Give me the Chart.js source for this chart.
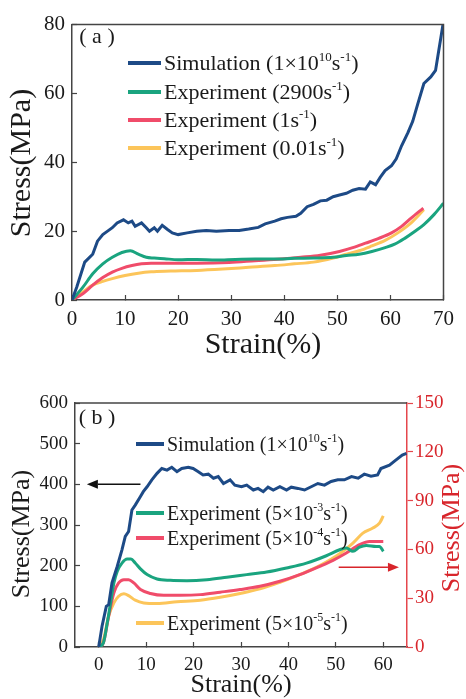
<!DOCTYPE html>
<html>
<head>
<meta charset="utf-8">
<script src="https://cdn.jsdelivr.net/npm/chart.js@4.4.1/dist/chart.umd.min.js"></script>
<style>
  html, body { margin: 0; padding: 0; background: #fff; }
  #wrapA { position: absolute; left: 0; top: 0; width: 466px; height: 370px; }
  #wrapB { position: absolute; left: 0; top: 370px; width: 466px; height: 329px; }
</style>
</head>
<body>
<div id="wrapA"><canvas id="chartA"></canvas></div>
<div id="wrapB"><canvas id="chartB"></canvas></div>
<script>
// ---------- panel (a) data ----------
const labelsA = ['Simulation (1×10^{10}s^{-1})', 'Experiment (2900s^{-1})', 'Experiment (1s^{-1})', 'Experiment (0.01s^{-1})'];
const xTicksA = [0, 10, 20, 30, 40, 50, 60, 70];
const yTicksA = [0, 20, 40, 60, 80];

const simStrainA = [0,0.9,2.4,3.9,4.8,5.8,6.7,7.6,8.5,9.7,10.6,11.3,11.9,13.1,14,14.6,15.5,16.1,17,18,18.9,20,21.7,23.5,25.3,27.2,29.6,31.5,33.3,35.1,36.4,38.2,39.4,40.6,42.2,43.1,44.3,45.5,46.8,48,49.2,50.4,51.7,52.9,54.1,55.3,56.2,57.2,58.1,59,60.2,61.1,62.1,63.3,64.2,65.1,66.3,67.6,68.5,69.1,69.5,69.9];
const simStressA = [0,3.8,11,13.3,17.1,19,20,21,22.4,23.3,22.4,22.9,21.4,22.4,21,20,21,20,21.7,20.5,19.5,19,19.5,20,20.2,20,20.2,20.2,20.6,21.1,22.1,22.9,23.6,24,24.3,25.2,27.1,27.8,28.8,29,30,30.5,31,31.9,32.4,32.2,34.3,33.5,35.7,37.6,39,41,44.8,48.6,51.9,56.7,62.9,64.8,66.7,72.4,76.2,80];

const exp2900StrainA = [0,2.1,3.9,5.8,7.6,9.4,11,12.5,14,15.5,17.4,20,23.5,27.2,30.8,34.5,38.2,41.9,45.5,49.2,51.7,54.1,56.5,59,60.8,62.7,64.5,66.3,68.2,70];
const exp2900StressA = [0,3.8,7.6,10.5,12.4,13.8,14.3,13.3,12.4,12.2,12,11.7,11.8,11.6,11.8,11.9,11.9,12.1,12.2,12.4,12.9,13.3,14.1,15.2,16.2,17.9,19.8,21.9,24.8,28.1];

const exp1StrainA = [0,2.1,3.9,5.8,7.6,9.4,11.3,13.1,14.9,18.6,23.5,29.6,34.5,39.4,43.1,46.8,50.4,52.9,55.3,57.8,60.2,62.1,63.9,66.2];
const exp1StressA = [0,1.9,4.3,6.5,8.1,9.2,10,10.5,10.7,10.7,10.7,10.9,11.4,11.9,12.4,13,14.1,15.2,16.5,17.9,19.5,21.4,23.8,26.7];

const exp001StrainA = [0,2.1,3.9,5.8,7.6,10,12.5,14.9,18.6,23.5,28.4,33.3,38.2,41.9,45.5,49.2,51.7,54.1,56.5,59,61.4,63.9,66.3];
const exp001StressA = [0,2.4,4.3,5.4,6.2,7.1,7.8,8.2,8.4,8.6,9,9.5,10,10.5,11,12.2,13.3,14.3,15.7,17.3,19.5,22.4,26.2];

// ---------- panel (b) data ----------
const labelsB = ['Simulation (1×10^{10}s^{-1})', 'Experiment (5×10^{-3}s^{-1})', 'Experiment (5×10^{-4}s^{-1})', 'Experiment (5×10^{-5}s^{-1})'];
const xTicksB = [0, 10, 20, 30, 40, 50, 60];
const yTicksB = [0, 100, 200, 300, 400, 500, 600];
const y2TicksB = [0, 30, 60, 90, 120, 150];

const simStrainB = [0,0.7,1.6,2.1,2.8,3.9,4.9,5.6,6.3,7,7.7,8.8,9.4,10.2,11.2,12.3,13.3,14.4,15.4,16.5,17.5,18.9,19.9,21,22,23.1,24.2,25.2,26.3,27.7,28.7,30.1,31.2,32.6,33.6,34.7,35.7,36.8,38.2,39.6,40.6,42,43.4,44.8,46.2,47.6,49,50.4,51.8,53.3,54.7,56,57.4,58.8,59.5,61.3,62.7,64,64.9];
const simStressB = [0,51,100,104,158,198,239,272,284,337,349,370,382,394,411,427,439,435,442,431,439,442,439,431,423,425,415,419,402,411,398,394,398,386,390,382,393,386,394,386,393,390,386,394,402,398,407,411,411,419,415,425,420,423,439,447,460,472,476];

const exp5e3StrainB = [0,1,1.8,2.5,3.2,3.9,4.9,6,6.8,7.7,8.8,10.2,12.3,15.1,18.6,22.8,27,31.2,35.4,39.6,43.8,48,50.8,52.2,53.6,55,56.4,58.5,59.2,60];
const exp5e3StressB = [0,2.7,14.9,27.1,39.4,46.5,51.6,54.1,54.1,51.6,48,44.5,41.8,41,40.8,41.4,42.9,44.5,46.1,48.6,51.6,56.1,59.8,60.8,58.8,61.4,62.4,61.8,61.8,58.8];

const exp5e4StrainB = [0,1,2.1,3.2,4.2,5.3,6.3,7.4,8.8,10.9,13.7,17.2,21.4,25.6,29.8,34,38.2,42.4,46.6,49.4,52.2,55,57.1,60];
const exp5e4StressB = [0,2.7,19,33.3,39.4,41.4,41.4,39.4,35.3,32.9,31.8,31.8,32.2,33.7,35.3,37.3,40.4,44.5,49.6,53.3,57.8,62.9,64.9,64.9];

const exp5e5StrainB = [0,1,2.1,3.2,4.2,5.3,6.3,7.7,9.5,12.3,16.5,21.4,25.6,29.8,34,38.2,42.4,46.6,50.8,53.6,55.7,57.8,59.2,60];
const exp5e5StressB = [0,4.7,19,27.1,31.2,32.7,31.6,28.8,27.1,26.7,27.8,28.8,30.6,32.9,35.7,39.8,44.5,50,57.3,63.9,70,73.1,76.1,80.6];

// ---------- styling ----------
const NAVY = '#1d4a86', GREEN = '#1aa47f', PINK = '#f04c6a', GOLD = '#fcc55a';
const AXIS = '#444', RED_AXIS = '#e5474d', RED_TEXT = '#d8252b';
const SERIF = "'Liberation Serif', 'Times New Roman', serif";

Chart.defaults.font.family = SERIF;
Chart.defaults.color = '#222';

const pts = (xs, ys) => xs.map((x, i) => ({ x: x, y: ys[i] }));
const setTicks = (vals) => (scale) => { scale.ticks = vals.map(v => ({ value: v })); };

function series(label, xs, ys, color, smooth, axis) {
  return {
    label: label,
    data: pts(xs, ys),
    borderColor: color,
    backgroundColor: color,
    borderWidth: 3,
    pointRadius: 0,
    tension: smooth ? 0.4 : 0,
    cubicInterpolationMode: smooth ? 'monotone' : 'default',
    yAxisID: axis || 'y'
  };
}

// draw text with ^{..} superscripts
function richText(ctx, str, x, y, size) {
  const parts = str.split(/(\^\{[^}]*\})/).filter(s => s.length);
  let cx = x;
  parts.forEach(p => {
    if (p.startsWith('^{')) {
      const t = p.slice(2, -1);
      ctx.font = Math.round(size * 0.6) + 'px ' + SERIF;
      ctx.fillText(t, cx, y - size * 0.42);
      cx += ctx.measureText(t).width;
    } else {
      ctx.font = size + 'px ' + SERIF;
      ctx.fillText(p, cx, y);
      cx += ctx.measureText(p).width;
    }
  });
}

function arrow(ctx, x1, y1, x2, y2, color) {
  const ang = Math.atan2(y2 - y1, x2 - x1), len = 11, half = 4.5;
  ctx.strokeStyle = color; ctx.fillStyle = color; ctx.lineWidth = 1.5;
  ctx.beginPath();
  ctx.moveTo(x1, y1);
  ctx.lineTo(x2 - len * Math.cos(ang), y2 - len * Math.sin(ang));
  ctx.stroke();
  ctx.beginPath();
  ctx.moveTo(x2, y2);
  ctx.lineTo(x2 - len * Math.cos(ang) - half * Math.sin(ang), y2 - len * Math.sin(ang) + half * Math.cos(ang));
  ctx.lineTo(x2 - len * Math.cos(ang) + half * Math.sin(ang), y2 - len * Math.sin(ang) - half * Math.cos(ang));
  ctx.closePath();
  ctx.fill();
}

const decor = {
  id: 'decor',
  afterDatasetsDraw(chart, args, o) {
    const ctx = chart.ctx, a = chart.chartArea;
    ctx.save();
    // frame
    ctx.strokeStyle = AXIS; ctx.lineWidth = 1.5;
    ctx.beginPath();
    ctx.moveTo(a.left, a.top); ctx.lineTo(a.right, a.top);
    if (o.rightFrame) ctx.lineTo(a.right, a.bottom);
    ctx.stroke();

    // scattered legend
    ctx.textAlign = 'left'; ctx.textBaseline = 'alphabetic';
    chart.data.datasets.forEach((ds, i) => {
      const p = o.legend[i];
      ctx.strokeStyle = ds.borderColor; ctx.lineWidth = 4;
      ctx.beginPath(); ctx.moveTo(p.x0, p.y); ctx.lineTo(p.x1, p.y); ctx.stroke();
      ctx.fillStyle = '#1a1a1a';
      richText(ctx, ds.label, p.x1 + 3, p.y + o.legendSize * 0.33, o.legendSize);
    });

    // panel label
    ctx.fillStyle = '#1a1a1a'; ctx.textAlign = 'center'; ctx.textBaseline = 'middle';
    ctx.font = o.panel.size + 'px ' + SERIF;
    ctx.fillText(o.panel.text, o.panel.x, o.panel.y);

    // axis titles
    o.titles.forEach(t => {
      ctx.save();
      ctx.translate(t.x, t.y);
      if (t.rot) ctx.rotate(-Math.PI / 2);
      ctx.fillStyle = t.color || '#1a1a1a';
      ctx.font = t.size + 'px ' + SERIF;
      ctx.textAlign = 'center'; ctx.textBaseline = 'middle';
      ctx.fillText(t.text, 0, 0);
      ctx.restore();
    });

    // arrows in data coordinates
    (o.arrows || []).forEach(ar => {
      const xs = chart.scales.x, ys = chart.scales[ar.axis];
      arrow(ctx, xs.getPixelForValue(ar.from), ys.getPixelForValue(ar.y),
                 xs.getPixelForValue(ar.to), ys.getPixelForValue(ar.y), ar.color);
    });
    ctx.restore();
  }
};

function axisOpts(min, max, ticks, fit, tickLen, pad, size, color, lineColor) {
  return {
    type: 'linear', min: min, max: max,
    afterBuildTicks: setTicks(ticks),
    afterFit: fit,
    grid: { display: true, drawOnChartArea: false, drawTicks: true, tickLength: tickLen, color: lineColor, tickWidth: 1.2 },
    border: { display: true, color: lineColor, width: 1.5 },
    ticks: { padding: pad, color: color, font: { size: size, family: SERIF } },
    title: { display: false }
  };
}

// ---------- chart (a) ----------
new Chart(document.getElementById('chartA'), {
  type: 'line',
  data: {
    datasets: [
      series(labelsA[0], simStrainA, simStressA, NAVY, false),
      series(labelsA[1], exp2900StrainA, exp2900StressA, GREEN, true),
      series(labelsA[2], exp1StrainA, exp1StressA, PINK, true),
      series(labelsA[3], exp001StrainA, exp001StressA, GOLD, true)
    ]
  },
  options: {
    responsive: true, maintainAspectRatio: false, animation: false,
    layout: { padding: { top: 20, right: 13, bottom: 0, left: 0 } },
    plugins: {
      legend: { display: false }, tooltip: { enabled: false },
      decor: {
        rightFrame: true,
        legendSize: 22,
        legend: [{ x0: 128, x1: 161, y: 63 }, { x0: 128, x1: 161, y: 92 }, { x0: 128, x1: 161, y: 120 }, { x0: 128, x1: 161, y: 148 }],
        panel: { text: '( a )', x: 97, y: 37, size: 22 },
        titles: [
          { text: 'Strain(%)', x: 263, y: 345, size: 30 },
          { text: 'Stress(MPa)', x: 22, y: 163, size: 30, rot: true }
        ]
      }
    },
    scales: {
      x: axisOpts(0, 70, xTicksA, s => { s.height = 70; }, -5, 12, 21, '#1a1a1a', AXIS),
      y: axisOpts(0, 80, yTicksA, s => { s.width = 72; }, -5, 12, 21, '#1a1a1a', AXIS)
    }
  },
  plugins: [decor]
});

// ---------- chart (b) ----------
new Chart(document.getElementById('chartB'), {
  type: 'line',
  data: {
    datasets: [
      series(labelsB[0], simStrainB, simStressB, NAVY, false, 'y'),
      series(labelsB[1], exp5e3StrainB, exp5e3StressB, GREEN, true, 'y2'),
      series(labelsB[2], exp5e4StrainB, exp5e4StressB, PINK, true, 'y2'),
      series(labelsB[3], exp5e5StrainB, exp5e5StressB, GOLD, true, 'y2')
    ]
  },
  options: {
    responsive: true, maintainAspectRatio: false, animation: false,
    layout: { padding: { top: 33, right: 0, bottom: 0, left: 0 } },
    plugins: {
      legend: { display: false }, tooltip: { enabled: false },
      decor: {
        rightFrame: false,
        legendSize: 20,
        legend: [{ x0: 136, x1: 164, y: 74 }, { x0: 136, x1: 164, y: 143 }, { x0: 136, x1: 164, y: 168 }, { x0: 136, x1: 164, y: 253 }],
        panel: { text: '( b )', x: 97, y: 48, size: 22 },
        titles: [
          { text: 'Strain(%)', x: 241, y: 315, size: 26 },
          { text: 'Stress(MPa)', x: 22, y: 164, size: 26, rot: true },
          { text: 'Stress(MPa)', x: 452, y: 158, size: 26, rot: true, color: RED_TEXT }
        ],
        arrows: [
          { from: 8.8, to: -2.5, y: 400, axis: 'y', color: '#111' },
          { from: 50.6, to: 63.3, y: 49, axis: 'y2', color: RED_TEXT }
        ]
      }
    },
    scales: {
      x: axisOpts(-5, 65, xTicksB, s => { s.height = 52; }, -5, 12, 19, '#1a1a1a', AXIS),
      y: axisOpts(0, 600, yTicksB, s => { s.width = 75; }, -5, 12, 19, '#1a1a1a', AXIS),
      y2: Object.assign(axisOpts(0, 150, y2TicksB, s => { s.width = 59; }, 6, 2, 19, RED_TEXT, RED_AXIS), { position: 'right' })
    }
  },
  plugins: [decor]
});
</script>
</body>
</html>
